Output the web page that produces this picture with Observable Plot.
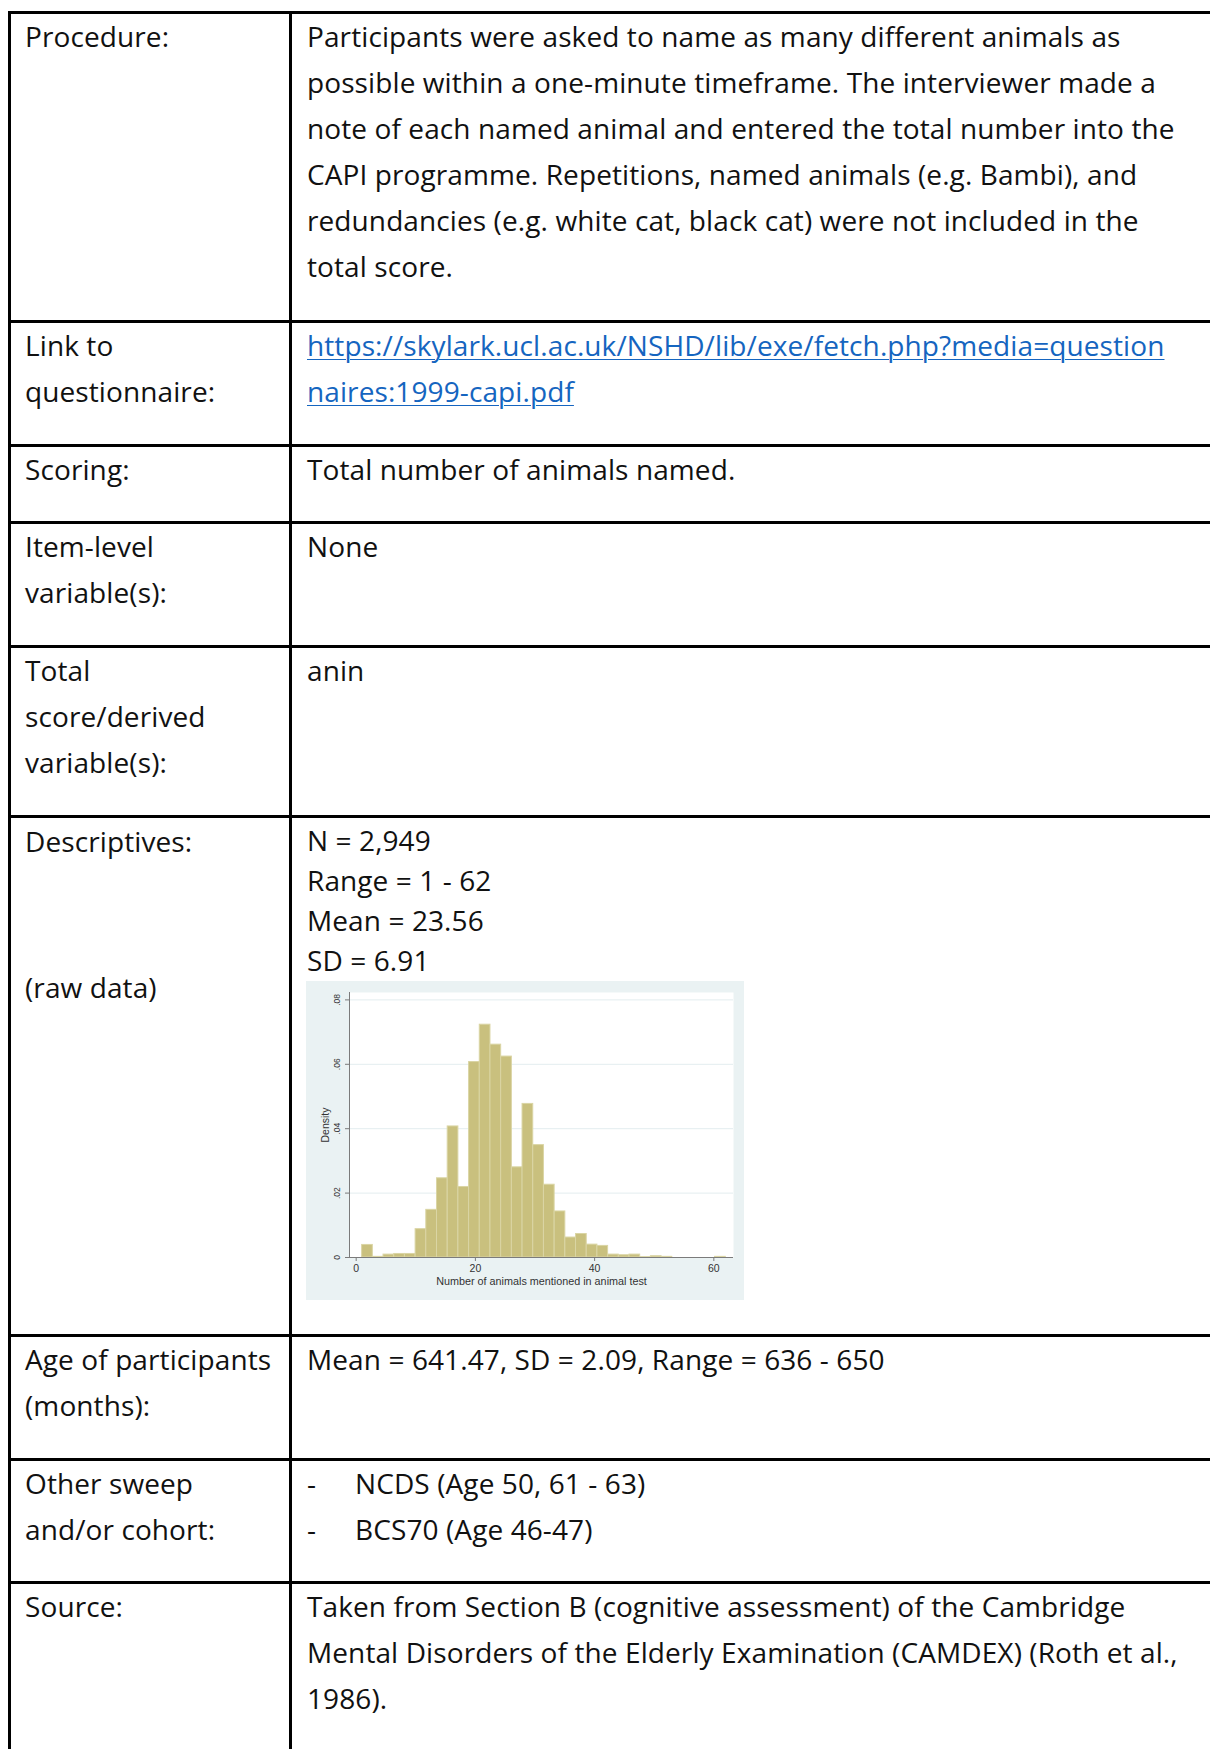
<!DOCTYPE html>
<html>
<head>
<meta charset="utf-8">
<script src="https://cdn.jsdelivr.net/npm/d3@7"></script>
<script src="https://cdn.jsdelivr.net/npm/@observablehq/plot@0.6"></script>
<style>
  html, body { margin: 0; padding: 0; background: #fff; }
  #page { position: relative; width: 1210px; height: 1749px; overflow: hidden; background: #fff;
          font-family: "Open Sans", Lato, sans-serif; font-size: 28px; letter-spacing: 0.1px; color: #111; }
  .hline { position: absolute; left: 8px; right: 0; height: 3px; background: #000; }
  .vline { position: absolute; top: 11px; bottom: 0; width: 3px; background: #000; }
  .cell { position: absolute; white-space: pre; line-height: 46px; }
  .l { left: 25px; }
  .r { left: 307px; }
  .dash { display: inline-block; width: 48px; }
  a { color: #1565c0; text-decoration: underline; text-decoration-thickness: 1px; text-underline-offset: 3px; }
  #chart { position: absolute; left: 306px; top: 981px; letter-spacing: 0; }
</style>
</head>
<body>
<div id="page">
  <div class="hline" style="top:11px"></div>
  <div class="hline" style="top:320px"></div>
  <div class="hline" style="top:444px"></div>
  <div class="hline" style="top:521px"></div>
  <div class="hline" style="top:645px"></div>
  <div class="hline" style="top:815px"></div>
  <div class="hline" style="top:1334px"></div>
  <div class="hline" style="top:1458px"></div>
  <div class="hline" style="top:1581px"></div>
  <div class="vline" style="left:8px"></div>
  <div class="vline" style="left:289px"></div>

  <div class="cell l" style="top:13px">Procedure:</div>
  <div class="cell r" style="top:13px">Participants were asked to name as many different animals as
possible within a one-minute timeframe. The interviewer made a
note of each named animal and entered the total number into the
CAPI programme. Repetitions, named animals (e.g. Bambi), and
redundancies (e.g. white cat, black cat) were not included in the
total score.</div>

  <div class="cell l" style="top:322px">Link to
questionnaire:</div>
  <div class="cell r" style="top:322px"><a>https://skylark.ucl.ac.uk/NSHD/lib/exe/fetch.php?media=question</a>
<a>naires:1999-capi.pdf</a></div>

  <div class="cell l" style="top:446px">Scoring:</div>
  <div class="cell r" style="top:446px">Total number of animals named.</div>

  <div class="cell l" style="top:523px">Item-level
variable(s):</div>
  <div class="cell r" style="top:523px">None</div>

  <div class="cell l" style="top:647px">Total
score/derived
variable(s):</div>
  <div class="cell r" style="top:647px">anin</div>

  <div class="cell l" style="top:818px">Descriptives:</div>
  <div class="cell l" style="top:964px">(raw data)</div>
  <div class="cell r" style="top:820px; line-height:40px">N = 2,949
Range = 1 - 62
Mean = 23.56
SD = 6.91</div>
  <div id="chart"></div>

  <div class="cell l" style="top:1336px">Age of participants
(months):</div>
  <div class="cell r" style="top:1336px">Mean = 641.47, SD = 2.09, Range = 636 - 650</div>

  <div class="cell l" style="top:1460px">Other sweep
and/or cohort:</div>
  <div class="cell r" style="top:1460px"><span class="dash">-</span>NCDS (Age 50, 61 - 63)
<span class="dash">-</span>BCS70 (Age 46-47)</div>

  <div class="cell l" style="top:1583px">Source:</div>
  <div class="cell r" style="top:1583px">Taken from Section B (cognitive assessment) of the Cambridge
Mental Disorders of the Elderly Examination (CAMDEX) (Roth et al.,
1986).</div>
</div>

<script>
// Histogram of animal naming scores (Stata-style density histogram)
const binMin = 1;
const binMax = 62;
const binCount = 34;
const density = [
  0.0039, 0.0002, 0.0009, 0.0011, 0.0011, 0.0088, 0.0148, 0.0246, 0.0407, 0.0219,
  0.0607, 0.0723, 0.0661, 0.0624, 0.0280, 0.0477, 0.0349, 0.0226, 0.0143, 0.0062,
  0.0073, 0.0040, 0.0036, 0.0009, 0.0007, 0.0009, 0.0001, 0.0004, 0.0002, 0.0000,
  0.0000, 0.0000, 0.0000, 0.0002
];
const xTicks = [0, 20, 40, 60];
const yTicks = [0, 0.02, 0.04, 0.06, 0.08];
const xLabel = "Number of animals mentioned in animal test";
const yLabel = "Density";

const binWidth = (binMax - binMin) / binCount;
const bins = density.map((d, i) => ({x1: binMin + i * binWidth, x2: binMin + (i + 1) * binWidth, y: d}));
const xDomain = [-1.12, 63.3];
const yDomain = [0, 0.0823];
const yFmt = d => d === 0 ? "0" : d3.format(".2f")(d).replace(/^0/, "");
const axisColor = "#7b7b7b";

const chart = Plot.plot({
  width: 438,
  height: 319,
  marginLeft: 43,
  marginRight: 11,
  marginTop: 11,
  marginBottom: 43,
  style: {background: "#eaf2f3", fontFamily: "'Liberation Sans', Arial, sans-serif", fontSize: "9px", color: "#333", overflow: "visible"},
  x: {domain: xDomain},
  y: {domain: yDomain},
  marks: [
    Plot.frame({fill: "white", stroke: "none"}),
    Plot.gridY(yTicks.filter(d => d > 0), {stroke: "#e3edef", strokeOpacity: 1, strokeWidth: 1}),
    Plot.rectY(bins, {x1: "x1", x2: "x2", y: "y", fill: "#c9c07e", stroke: "#dad5a4", strokeWidth: 1}),
    Plot.ruleX([xDomain[0]], {stroke: axisColor}),
    Plot.ruleY([0], {stroke: axisColor}),
    Plot.axisX({ticks: xTicks, tickSize: 4, tickPadding: 3, stroke: axisColor, fill: "#333", fontSize: 10.5, label: null, tickFormat: d3.format("d")}),
    Plot.axisY({ticks: yTicks, tickSize: 4, stroke: axisColor, label: null, tickFormat: () => ""}),
    Plot.text(yTicks, {x: () => xDomain[0], y: d => d, text: yFmt, rotate: -90, dx: -12, fill: "#333", fontSize: 8.5, textAnchor: "middle", lineAnchor: "middle"}),
    Plot.text([xLabel], {frameAnchor: "bottom", dy: 24, fill: "#333", fontSize: 10.8, textAnchor: "middle", lineAnchor: "middle"}),
    Plot.text([yLabel], {frameAnchor: "left", dx: -24, rotate: -90, fill: "#333", fontSize: 10.5, textAnchor: "middle", lineAnchor: "middle"})
  ]
});
document.getElementById("chart").appendChild(chart);
</script>
</body>
</html>
